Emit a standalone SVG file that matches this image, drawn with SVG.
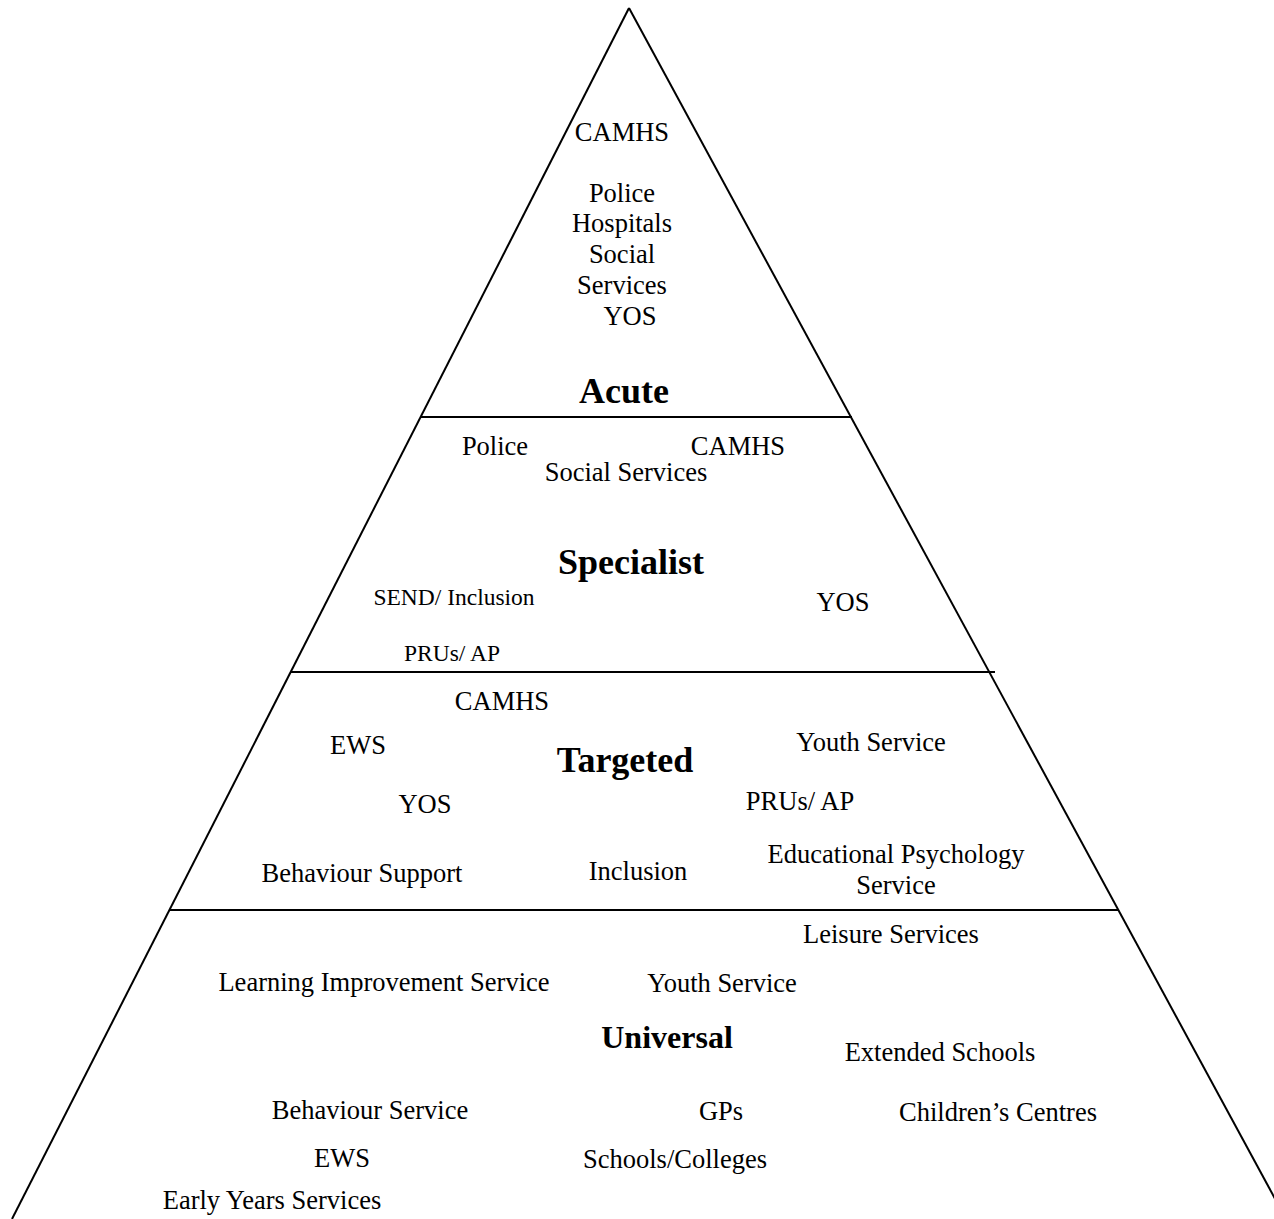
<svg xmlns="http://www.w3.org/2000/svg" width="1274" height="1219" viewBox="0 0 1274 1219">
<style>
.ln{stroke:#000;stroke-width:2;fill:none}
text{font-family:"Liberation Serif","Times New Roman",serif;fill:#000;text-anchor:middle}
.t{font-size:26.5px}
.s{font-size:23.5px}
.h{font-size:36px;font-weight:bold}
.u{font-size:32px;font-weight:bold}
</style>
<rect width="1274" height="1219" fill="#fff"/>
<g id="connectors">
<line class="ln" x1="629" y1="8" x2="12" y2="1219"/>
<line class="ln" x1="629" y1="8" x2="1286" y2="1219"/>
<line class="ln" x1="421" y1="417" x2="852" y2="417"/>
<line class="ln" x1="291" y1="672" x2="995" y2="672"/>
<line class="ln" x1="170" y1="910" x2="1119" y2="910"/>
</g>
<g id="acute">
<text class="t" x="622" y="141">CAMHS</text>
<text class="t" x="622" y="202">Police</text>
<text class="t" x="622" y="232">Hospitals</text>
<text class="t" x="622" y="263">Social</text>
<text class="t" x="622" y="294">Services</text>
<text class="t" x="630" y="325">YOS</text>
<text class="h" x="624" y="403">Acute</text>
</g>
<g id="specialist">
<text class="t" x="495" y="455">Police</text>
<text class="t" x="738" y="455">CAMHS</text>
<text class="t" x="626" y="481">Social Services</text>
<text class="h" x="631" y="574">Specialist</text>
<text class="s" x="454" y="605">SEND/ Inclusion</text>
<text class="t" x="843" y="611">YOS</text>
<text class="s" x="452" y="661">PRUs/ AP</text>
</g>
<g id="targeted">
<text class="t" x="502" y="710">CAMHS</text>
<text class="t" x="358" y="754">EWS</text>
<text class="h" x="625" y="772">Targeted</text>
<text class="t" x="871" y="751">Youth Service</text>
<text class="t" x="425" y="813">YOS</text>
<text class="t" x="800" y="810">PRUs/ AP</text>
<text class="t" x="362" y="882">Behaviour Support</text>
<text class="t" x="638" y="880">Inclusion</text>
<text class="t" x="896" y="863">Educational Psychology</text>
<text class="t" x="896" y="894">Service</text>
</g>
<g id="universal">
<text class="t" x="891" y="943">Leisure Services</text>
<text class="t" x="384" y="991">Learning Improvement Service</text>
<text class="t" x="722" y="992">Youth Service</text>
<text class="u" x="667" y="1048">Universal</text>
<text class="t" x="940" y="1061">Extended Schools</text>
<text class="t" x="370" y="1119">Behaviour Service</text>
<text class="t" x="721" y="1120">GPs</text>
<text class="t" x="998" y="1121">Children’s Centres</text>
<text class="t" x="342" y="1167">EWS</text>
<text class="t" x="675" y="1168">Schools/Colleges</text>
<text class="t" x="272" y="1209">Early Years Services</text>
</g>
</svg>
